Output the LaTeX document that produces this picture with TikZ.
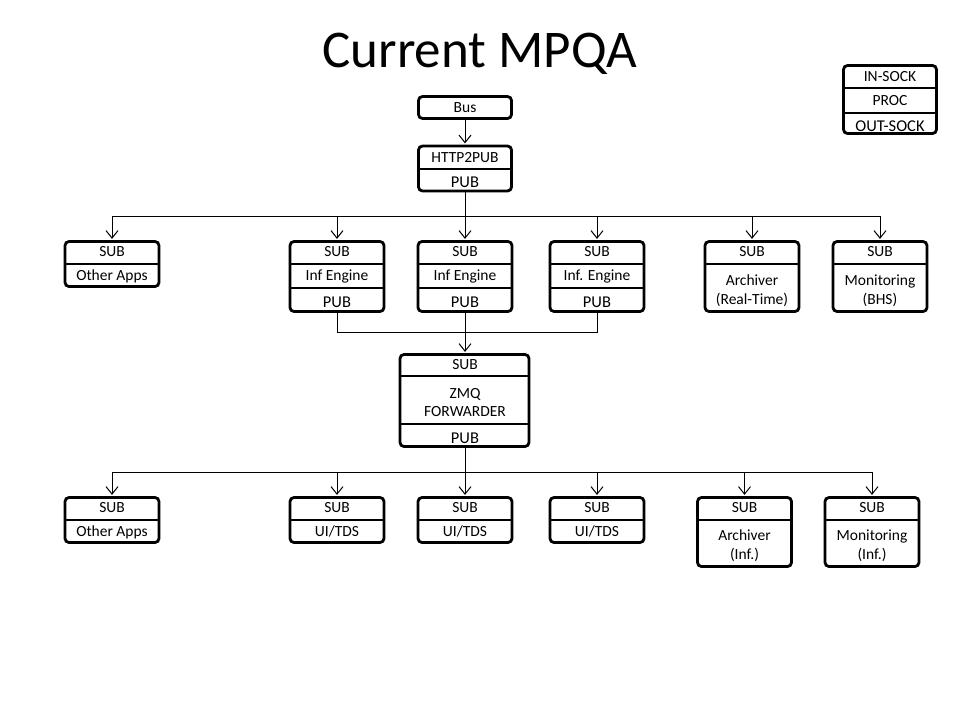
\documentclass[tikz,border=0pt]{standalone}
\usepackage{fontspec}
\setmainfont{Carlito}
\usetikzlibrary{arrows.meta}
\begin{document}
\begin{tikzpicture}[x=1pt,y=-1pt,
  frame/.style={draw, line width=2.8pt, rounded corners=4pt, inner sep=0pt, minimum width=94pt},
  divl/.style={line width=2.2pt},
  conn/.style={line width=1pt},
  arr/.style={conn, -{Straight Barb[length=7.5pt,width=12pt]}, shorten >=1.2pt},
  lbl/.style={inner sep=0pt, anchor=base, font=\fontsize{15.5}{18}\selectfont},
  pub/.style={inner sep=0pt, anchor=base, font=\fontsize{16.5}{19}\selectfont},
  ttl/.style={inner sep=0pt, anchor=base, font=\fontsize{53}{60}\selectfont},
]
\useasboundingbox[fill=white] (0,0) rectangle (960,720);

% title
\node[ttl] (title) at (480,67) {Current MPQA};

% legend
\node[frame, minimum width=93pt, minimum height=68pt] (leg) at (890,99.5) {};
\draw[divl] (leg.west |- 0,88) -- (leg.east |- 0,88);
\draw[divl] (leg.west |- 0,113) -- (leg.east |- 0,113);
\node[lbl] (leg-in) at (890,81.3) {IN-SOCK};
\node[lbl] (leg-proc) at (890,105.3) {PROC};
\node[pub] (leg-out) at (890,131.5) {OUT-SOCK};

% bus
\node[frame, minimum width=93pt, minimum height=22pt] (bus) at (465,107.5) {};
\node[lbl] (bus-t) at (465,112.5) {Bus};

% http2pub
\node[frame, minimum width=93pt, minimum height=45pt] (http) at (465,168.5) {};
\draw[divl] (http.west |- 0,169) -- (http.east |- 0,169);
\node[lbl] (http-t) at (465,162) {HTTP2PUB};
\node[pub] (http-p) at (465,187) {PUB};

% row 1
\node[frame, minimum height=45pt] (oa1) at (112,264) {};
\draw[divl] (oa1.west |- 0,264) -- (oa1.east |- 0,264);
\node[lbl] (oa1-s) at (112,256.8) {SUB};
\node[lbl] (oa1-t) at (112,280.8) {Other Apps};

\node[frame, minimum height=70pt] (ie1) at (337,276.5) {};
\draw[divl] (ie1.west |- 0,264) -- (ie1.east |- 0,264);
\draw[divl] (ie1.west |- 0,288) -- (ie1.east |- 0,288);
\node[lbl] (ie1-s) at (337,256.8) {SUB};
\node[lbl] (ie1-t) at (337,280.8) {Inf Engine};
\node[pub] (ie1-p) at (337,307) {PUB};

\node[frame, minimum height=70pt] (ie2) at (465,276.5) {};
\draw[divl] (ie2.west |- 0,264) -- (ie2.east |- 0,264);
\draw[divl] (ie2.west |- 0,288) -- (ie2.east |- 0,288);
\node[lbl] (ie2-s) at (465,256.8) {SUB};
\node[lbl] (ie2-t) at (465,280.8) {Inf Engine};
\node[pub] (ie2-p) at (465,307) {PUB};

\node[frame, minimum height=70pt] (ie3) at (597,276.5) {};
\draw[divl] (ie3.west |- 0,264) -- (ie3.east |- 0,264);
\draw[divl] (ie3.west |- 0,288) -- (ie3.east |- 0,288);
\node[lbl] (ie3-s) at (597,256.8) {SUB};
\node[lbl] (ie3-t) at (597,280.8) {Inf. Engine};
\node[pub] (ie3-p) at (597,307) {PUB};

\node[frame, minimum height=70pt] (arc1) at (752,276.5) {};
\draw[divl] (arc1.west |- 0,264) -- (arc1.east |- 0,264);
\node[lbl] (arc1-s) at (752,256.8) {SUB};
\node[lbl] (arc1-t1) at (752,285) {Archiver};
\node[lbl] (arc1-t2) at (752,304) {(Real-Time)};

\node[frame, minimum height=70pt] (mon1) at (880,276.5) {};
\draw[divl] (mon1.west |- 0,264) -- (mon1.east |- 0,264);
\node[lbl] (mon1-s) at (880,256.8) {SUB};
\node[lbl] (mon1-t1) at (880,285) {Monitoring};
\node[lbl] (mon1-t2) at (880,304) {(BHS)};

% ZMQ forwarder
\node[frame, minimum width=129pt, minimum height=92pt] (zmq) at (464.5,400.5) {};
\draw[divl] (zmq.west |- 0,376) -- (zmq.east |- 0,376);
\draw[divl] (zmq.west |- 0,424) -- (zmq.east |- 0,424);
\node[lbl] (zmq-s) at (465,369.8) {SUB};
\node[lbl] (zmq-t1) at (465,398) {ZMQ};
\node[lbl] (zmq-t2) at (465,416) {FORWARDER};
\node[pub] (zmq-p) at (465,443.5) {PUB};

% row 2
\node[frame, minimum height=45pt] (oa2) at (112,520) {};
\draw[divl] (oa2.west |- 0,520) -- (oa2.east |- 0,520);
\node[lbl] (oa2-s) at (112,512.8) {SUB};
\node[lbl] (oa2-t) at (112,536.8) {Other Apps};

\node[frame, minimum height=45pt] (ui1) at (337,520) {};
\draw[divl] (ui1.west |- 0,520) -- (ui1.east |- 0,520);
\node[lbl] (ui1-s) at (337,512.8) {SUB};
\node[lbl] (ui1-t) at (337,536.8) {UI/TDS};

\node[frame, minimum height=45pt] (ui2) at (465,520) {};
\draw[divl] (ui2.west |- 0,520) -- (ui2.east |- 0,520);
\node[lbl] (ui2-s) at (465,512.8) {SUB};
\node[lbl] (ui2-t) at (465,536.8) {UI/TDS};

\node[frame, minimum height=45pt] (ui3) at (597,520) {};
\draw[divl] (ui3.west |- 0,520) -- (ui3.east |- 0,520);
\node[lbl] (ui3-s) at (597,512.8) {SUB};
\node[lbl] (ui3-t) at (597,536.8) {UI/TDS};

\node[frame, minimum height=69pt] (arc2) at (744.5,532) {};
\draw[divl] (arc2.west |- 0,520) -- (arc2.east |- 0,520);
\node[lbl] (arc2-s) at (744.5,512.8) {SUB};
\node[lbl] (arc2-t1) at (744.5,540) {Archiver};
\node[lbl] (arc2-t2) at (744.5,559) {(Inf.)};

\node[frame, minimum height=69pt] (mon2) at (872,532) {};
\draw[divl] (mon2.west |- 0,520) -- (mon2.east |- 0,520);
\node[lbl] (mon2-s) at (872,512.8) {SUB};
\node[lbl] (mon2-t1) at (872,540) {Monitoring};
\node[lbl] (mon2-t2) at (872,559) {(Inf.)};

% connectors
\draw[arr] (bus) -- (http);
\coordinate (j1) at (465,216);
\draw[conn] (http.south) -- (j1);
\draw[conn] (oa1.north |- j1) -- (mon1.north |- j1);
\foreach \n in {oa1,ie1,ie2,ie3,arc1,mon1}
  \draw[arr] (\n.north |- j1) -- (\n.north);

\coordinate (j2) at (465,332);
\draw[conn] (ie1.south) -- (ie1.south |- j2) -- (ie3.south |- j2) -- (ie3.south);
\draw[arr] (ie2.south) -- (zmq.north -| ie2.south);

\coordinate (j3) at (465,472);
\draw[conn] (zmq.south -| j3) -- (j3);
\draw[conn] (oa2.north |- j3) -- (mon2.north |- j3);
\foreach \n in {oa2,ui1,ui2,ui3,arc2,mon2}
  \draw[arr] (\n.north |- j3) -- (\n.north);
\end{tikzpicture}
\end{document}
